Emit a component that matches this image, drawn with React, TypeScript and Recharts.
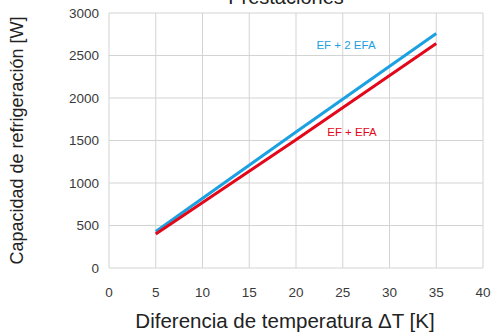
import { LineChart, Line, XAxis, YAxis, CartesianGrid } from 'recharts';

const deltaT = [5, 20, 35];
const efDosEfa = [430, 1600, 2760];
const efEfa = [400, 1510, 2640];
const xTicks = [0, 5, 10, 15, 20, 25, 30, 35, 40];
const yTicks = [0, 500, 1000, 1500, 2000, 2500, 3000];

const BLUE = '#1ba1e2';
const RED = '#e3071a';
const FONT = '"Liberation Sans", Arial, sans-serif';

const data = deltaT.map((t, i) => ({ t, dos: efDosEfa[i], uno: efEfa[i] }));

export default function App() {
    return (
        <div style={{ position: 'absolute', left: 0, top: 0, width: 492, height: 336, background: '#fff', fontFamily: FONT }}>
            <LineChart width={492} height={336} data={data} margin={{ top: 13, right: 9, left: 0, bottom: 0 }}>
                <CartesianGrid stroke="#d3d3d3" strokeWidth={1} />
                <XAxis
                    dataKey="t"
                    type="number"
                    domain={[0, 40]}
                    ticks={xTicks}
                    axisLine={false}
                    tickLine={false}
                    tickSize={0}
                    tickMargin={19}
                    height={68}
                    tick={{ fill: '#3a3a3a', fontSize: 13.5, fontFamily: FONT }}
                />
                <YAxis
                    type="number"
                    domain={[0, 3000]}
                    ticks={yTicks}
                    axisLine={false}
                    tickLine={false}
                    tickSize={0}
                    tickMargin={10}
                    width={109}
                    tick={{ fill: '#3a3a3a', fontSize: 13.5, fontFamily: FONT }}
                    label={{ value: 'Capacidad de refrigeración [W]', angle: -90, position: 'insideLeft', offset: 17, fill: '#222', fontSize: 18, fontFamily: FONT, style: { textAnchor: 'middle' } }}
                />
                <Line type="linear" dataKey="dos" stroke={BLUE} strokeWidth={3} dot={false} isAnimationActive={false} />
                <Line type="linear" dataKey="uno" stroke={RED} strokeWidth={3} dot={false} isAnimationActive={false} />
                <text x={286} y={4} textAnchor="middle" fill="#222" fontSize={20} fontFamily={FONT}>Prestaciones</text>
                <text x={285} y={328} textAnchor="middle" fill="#222" fontSize={20.5} fontFamily={FONT}>Diferencia de temperatura ΔT [K]</text>
                <text x={346} y={49} textAnchor="middle" fill={BLUE} fontSize={11.5} fontFamily={FONT}>EF + 2 EFA</text>
                <text x={352} y={136} textAnchor="middle" fill={RED} fontSize={11.5} fontFamily={FONT}>EF + EFA</text>
            </LineChart>
        </div>
    );
}
